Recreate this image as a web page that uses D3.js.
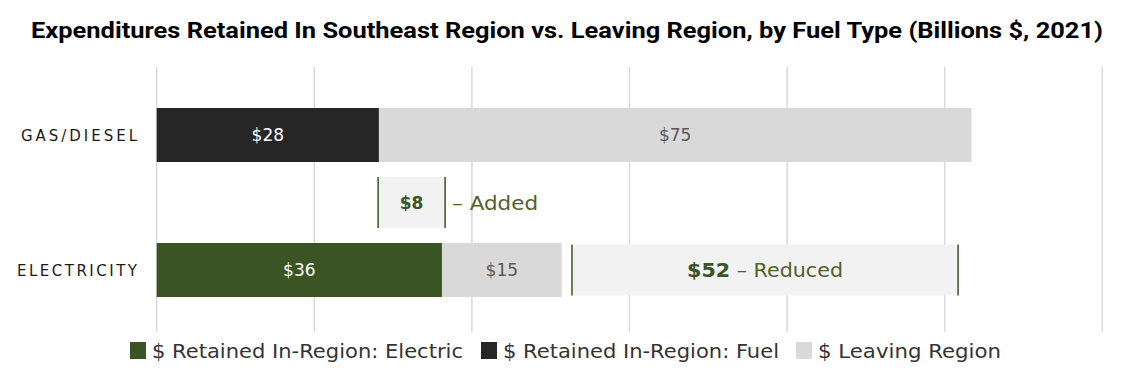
<!DOCTYPE html>
<html>
<script src="https://d3js.org/d3.v7.min.js"></script>
<style>
    body { margin: 0; background: #fff; }
    text { font-family: "DejaVu Sans", sans-serif; }
</style>
<body>
<svg width="1145" height="381"></svg>
<script>
    // values (billions $, 2021)
    const categories = ['GAS/DIESEL', 'ELECTRICITY'];
    const retainedFuel = [28.2, 0];
    const retainedElectric = [0, 36.2];
    const leaving = [75.2, 15.2];
    const barLabels = [['$28', '$75'], ['$36', '$15']];

    // the two boxes showing the change
    const changeNames = ['Added', 'Reduced'];
    const changeFrom = [28.1, 52.7];
    const changeTo = [36.6, 101.7];
    const changeLabels = ['$8', '$52'];

    const gridTicks = [0, 20, 40, 60, 80, 100, 120];
    const legendNames = ['$ Retained In-Region: Electric', '$ Retained In-Region: Fuel', '$ Leaving Region'];

    const green = '#3a5424', dark = '#262626', grey = '#d9d9d9', pale = '#f2f2f2';

    const svg = d3.select('svg');

    const x = d3.scaleLinear().domain([0, 120]).range([156.7, 1102.3]);
    const y = d3.scaleBand()
        .domain(['GAS/DIESEL', 'change', 'ELECTRICITY'])
        .range([108, 297])
        .paddingInner(0.2)
        .paddingOuter(0);

    svg.append('text')
        .attr('x', 567).attr('y', 38)
        .attr('text-anchor', 'middle')
        .attr('textLength', 1072)
        .attr('lengthAdjust', 'spacingAndGlyphs')
        .style('font-family', 'Roboto, sans-serif')
        .style('font-weight', 'bold')
        .style('font-size', '22px')
        .attr('fill', '#000')
        .text('Expenditures Retained In Southeast Region vs. Leaving Region, by Fuel Type (Billions $, 2021)');

    // gridlines
    svg.append('g').selectAll('line')
        .data(gridTicks)
        .enter().append('line')
        .attr('x1', d => x(d)).attr('x2', d => x(d))
        .attr('y1', 67).attr('y2', 332)
        .attr('stroke', grey)
        .attr('stroke-width', 1.5);

    // stacked bars
    const rows = categories.map((c, i) => {
        const segs = [];
        let start = 0;
        [[retainedElectric[i], green, '#fff'], [retainedFuel[i], dark, '#fff'], [leaving[i], grey, '#595959']]
            .forEach(s => {
                if (s[0] > 0) {
                    segs.push({ cat: c, x0: start, x1: start + s[0], fill: s[1], color: s[2] });
                    start += s[0];
                }
            });
        segs.forEach((s, j) => s.label = barLabels[i][j]);
        return segs;
    });
    const segs = rows.flat();

    const bars = svg.append('g');
    bars.selectAll('rect')
        .data(segs)
        .enter().append('rect')
        .attr('x', d => x(d.x0))
        .attr('width', d => x(d.x1) - x(d.x0))
        .attr('y', d => y(d.cat))
        .attr('height', y.bandwidth())
        .attr('fill', d => d.fill);

    bars.selectAll('text')
        .data(segs)
        .enter().append('text')
        .attr('x', d => (x(d.x0) + x(d.x1)) / 2)
        .attr('y', d => y(d.cat) + y.bandwidth() / 2 + 6)
        .attr('text-anchor', 'middle')
        .style('font-size', '17px')
        .attr('fill', d => d.color)
        .text(d => d.label);

    // category labels, widely letter-spaced
    const catWidth = [116, 120];
    svg.append('g').selectAll('text')
        .data(categories)
        .enter().append('text')
        .attr('x', (d, i) => 137 - catWidth[i])
        .attr('y', d => y(d) + y.bandwidth() / 2 + 6)
        .attr('textLength', (d, i) => catWidth[i])
        .attr('lengthAdjust', 'spacing')
        .style('font-size', '15px')
        .attr('fill', '#1a1a1a')
        .text(d => d);

    // added / reduced boxes
    const changeRows = ['change', 'ELECTRICITY'];
    const boxes = svg.append('g').selectAll('g')
        .data(changeNames)
        .enter().append('g');

    boxes.append('rect')
        .attr('x', (d, i) => x(changeFrom[i]))
        .attr('width', (d, i) => x(changeTo[i]) - x(changeFrom[i]))
        .attr('y', (d, i) => y(changeRows[i]) + 1.5)
        .attr('height', y.bandwidth() - 3)
        .attr('fill', pale);

    [changeFrom, changeTo].forEach(arr => {
        boxes.append('line')
            .attr('x1', (d, i) => x(arr[i])).attr('x2', (d, i) => x(arr[i]))
            .attr('y1', (d, i) => y(changeRows[i]) + 1.5)
            .attr('y2', (d, i) => y(changeRows[i]) + y.bandwidth() - 1.5)
            .attr('stroke', green)
            .attr('stroke-width', 1.5);
    });

    // "$8 – Added" sits beside its box, "$52 – Reduced" inside
    const added = boxes.filter((d, i) => i === 0);
    added.append('text')
        .attr('x', x((changeFrom[0] + changeTo[0]) / 2))
        .attr('y', y('change') + y.bandwidth() / 2 + 6)
        .attr('text-anchor', 'middle')
        .style('font-size', '17px')
        .style('font-weight', 'bold')
        .attr('fill', green)
        .text(changeLabels[0]);
    added.append('text')
        .attr('x', x(changeTo[0]) + 7)
        .attr('y', y('change') + y.bandwidth() / 2 + 7)
        .attr('textLength', 86)
        .attr('lengthAdjust', 'spacingAndGlyphs')
        .style('font-size', '19px')
        .attr('fill', '#4f6228')
        .text('– ' + changeNames[0]);

    const reduced = boxes.filter((d, i) => i === 1).append('text')
        .attr('x', x((changeFrom[1] + changeTo[1]) / 2) - 78)
        .attr('y', y('ELECTRICITY') + y.bandwidth() / 2 + 7)
        .attr('textLength', 156)
        .attr('lengthAdjust', 'spacingAndGlyphs')
        .style('font-size', '19px')
        .attr('fill', '#4f6228');
    reduced.append('tspan').style('font-weight', 'bold').attr('fill', green).text(changeLabels[1]);
    reduced.append('tspan').text('  –  ' + changeNames[1]);

    // legend
    const legendX = [130, 481, 796];
    const legendWidth = [311, 276, 183];
    const legend = svg.append('g').selectAll('g')
        .data(legendNames)
        .enter().append('g')
        .attr('transform', (d, i) => 'translate(' + legendX[i] + ',342)');
    legend.append('rect')
        .attr('width', 16).attr('height', 17)
        .attr('fill', (d, i) => [green, dark, grey][i]);
    legend.append('text')
        .attr('x', 22).attr('y', 16)
        .attr('textLength', (d, i) => legendWidth[i])
        .attr('lengthAdjust', 'spacingAndGlyphs')
        .style('font-size', '19px')
        .attr('fill', '#333')
        .text(d => d);
</script>
</body>
</html>
